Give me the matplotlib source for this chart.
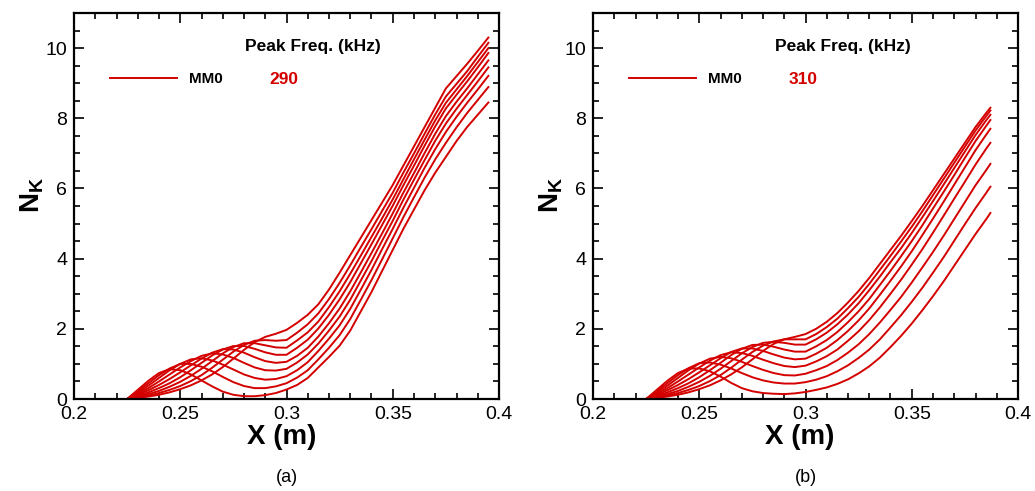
import matplotlib
matplotlib.use("Agg")
import matplotlib.pyplot as plt
from matplotlib.ticker import MultipleLocator, FuncFormatter

plt.rcParams['font.family'] = ['Liberation Sans', 'DejaVu Sans']
plt.rcParams['mathtext.fontset'] = 'custom'
plt.rcParams['mathtext.rm'] = 'Liberation Sans'
plt.rcParams['mathtext.bf'] = 'Liberation Sans:bold'

# x stations (m)
x_a = [0.225, 0.23, 0.235, 0.24, 0.245, 0.25, 0.255, 0.26, 0.265, 0.27, 0.275, 0.28,
       0.285, 0.29, 0.295, 0.3, 0.305, 0.31, 0.315, 0.32, 0.325, 0.33, 0.335, 0.34,
       0.345, 0.35, 0.355, 0.36, 0.365, 0.37, 0.375, 0.38, 0.385, 0.39, 0.395]
x_b = [0.225, 0.23, 0.235, 0.24, 0.245, 0.25, 0.255, 0.26, 0.265, 0.27, 0.275, 0.28,
       0.285, 0.29, 0.295, 0.3, 0.305, 0.31, 0.315, 0.32, 0.325, 0.33, 0.335, 0.34,
       0.345, 0.35, 0.355, 0.36, 0.365, 0.37, 0.375, 0.38, 0.385, 0.387]

# (a) N-factor curves, 290 kHz
a0 = [0, .03, .07, .12, .19, .28, .39, .53, .7, .91, 1.15, 1.4, 1.62, 1.77, 1.86, 1.97,
      2.17, 2.4, 2.7, 3.12, 3.6, 4.1, 4.6, 5.1, 5.6, 6.1, 6.65, 7.2, 7.75, 8.3, 8.85, 9.2, 9.55, 9.92, 10.3]
a1 = [0, .05, .1, .17, .26, .37, .51, .68, .89, 1.12, 1.35, 1.54, 1.66, 1.68, 1.66, 1.68,
      1.89, 2.13, 2.44, 2.85, 3.31, 3.81, 4.33, 4.84, 5.36, 5.88, 6.45, 7.0, 7.56, 8.11, 8.62, 8.98, 9.34, 9.75, 10.15]
a2 = [0, .07, .14, .23, .35, .49, .66, .86, 1.08, 1.3, 1.48, 1.59, 1.59, 1.53, 1.47, 1.46,
      1.67, 1.9, 2.21, 2.62, 3.07, 3.57, 4.09, 4.62, 5.15, 5.69, 6.26, 6.83, 7.39, 7.94, 8.44, 8.82, 9.2, 9.6, 10.0]
a3 = [0, .09, .19, .31, .45, .62, .82, 1.03, 1.24, 1.41, 1.51, 1.51, 1.43, 1.33, 1.26, 1.26,
      1.46, 1.69, 2.01, 2.4, 2.84, 3.33, 3.87, 4.41, 4.96, 5.51, 6.09, 6.65, 7.22, 7.77, 8.28, 8.67, 9.05, 9.45, 9.86]
a4 = [0, .12, .25, .4, .57, .76, .96, 1.15, 1.32, 1.42, 1.41, 1.32, 1.19, 1.08, 1.03, 1.06,
      1.23, 1.46, 1.78, 2.16, 2.58, 3.07, 3.61, 4.16, 4.72, 5.29, 5.88, 6.44, 7.01, 7.56, 8.06, 8.47, 8.85, 9.25, 9.65]
a5 = [0, .15, .31, .5, .7, .9, 1.08, 1.23, 1.3, 1.27, 1.17, 1.03, .9, .82, .81, .86,
      1.04, 1.27, 1.58, 1.95, 2.35, 2.83, 3.38, 3.93, 4.51, 5.08, 5.68, 6.25, 6.81, 7.36, 7.85, 8.27, 8.66, 9.05, 9.45]
a6 = [0, .18, .38, .6, .82, 1.0, 1.13, 1.16, 1.1, .98, .84, .7, .6, .55, .57, .65,
      .82, 1.05, 1.37, 1.72, 2.1, 2.57, 3.12, 3.68, 4.27, 4.85, 5.45, 6.02, 6.59, 7.12, 7.61, 8.04, 8.44, 8.82, 9.21]
a7 = [0, .22, .45, .68, .87, 1.0, 1.0, .92, .79, .63, .48, .37, .31, .31, .36, .45,
      .61, .82, 1.13, 1.46, 1.82, 2.28, 2.83, 3.39, 3.98, 4.58, 5.18, 5.75, 6.31, 6.83, 7.3, 7.74, 8.15, 8.52, 8.89]
a8 = [0, .26, .52, .74, .85, .82, .7, .53, .36, .21, .12, .08, .08, .11, .17, .27,
      .4, .6, .9, 1.2, 1.52, 1.95, 2.5, 3.05, 3.65, 4.25, 4.85, 5.4, 5.95, 6.45, 6.9, 7.35, 7.75, 8.1, 8.45]

# (b) N-factor curves, 310 kHz
b0 = [0, .03, .07, .12, .19, .28, .39, .53, .7, .9, 1.13, 1.37, 1.57, 1.7, 1.77, 1.85,
      2.0, 2.2, 2.45, 2.75, 3.08, 3.45, 3.85, 4.25, 4.65, 5.07, 5.5, 5.95, 6.4, 6.85, 7.3, 7.75, 8.15, 8.3]
b1 = [0, .05, .1, .17, .26, .37, .51, .68, .89, 1.12, 1.34, 1.52, 1.64, 1.7, 1.7, 1.7,
      1.85, 2.05, 2.29, 2.59, 2.91, 3.28, 3.68, 4.08, 4.49, 4.91, 5.35, 5.81, 6.27, 6.73, 7.19, 7.65, 8.06, 8.22]
b2 = [0, .07, .14, .23, .35, .49, .66, .86, 1.08, 1.3, 1.48, 1.6, 1.63, 1.6, 1.55, 1.55,
      1.7, 1.89, 2.13, 2.41, 2.73, 3.1, 3.49, 3.9, 4.3, 4.73, 5.18, 5.64, 6.11, 6.58, 7.05, 7.52, 7.94, 8.1]
b3 = [0, .09, .19, .31, .45, .62, .82, 1.03, 1.25, 1.43, 1.54, 1.55, 1.49, 1.41, 1.35, 1.35,
      1.5, 1.68, 1.91, 2.19, 2.5, 2.85, 3.25, 3.65, 4.07, 4.5, 4.95, 5.43, 5.9, 6.38, 6.87, 7.35, 7.78, 7.95]
b4 = [0, .12, .25, .4, .57, .76, .96, 1.16, 1.34, 1.44, 1.44, 1.37, 1.27, 1.18, 1.13, 1.15,
      1.29, 1.46, 1.68, 1.94, 2.24, 2.58, 2.97, 3.37, 3.78, 4.21, 4.67, 5.14, 5.62, 6.11, 6.6, 7.09, 7.53, 7.7]
b5 = [0, .15, .31, .5, .7, .9, 1.09, 1.25, 1.33, 1.31, 1.23, 1.12, 1.02, .94, .91, .95,
      1.07, 1.22, 1.41, 1.66, 1.93, 2.25, 2.61, 3.0, 3.4, 3.83, 4.27, 4.74, 5.22, 5.71, 6.19, 6.68, 7.13, 7.3]
b6 = [0, .18, .38, .6, .82, 1.01, 1.15, 1.2, 1.16, 1.06, .94, .83, .74, .68, .67, .72,
      .82, .94, 1.11, 1.32, 1.56, 1.85, 2.18, 2.54, 2.91, 3.32, 3.75, 4.19, 4.65, 5.13, 5.61, 6.09, 6.52, 6.7]
b7 = [0, .22, .45, .68, .88, 1.02, 1.04, .98, .87, .74, .62, .53, .47, .44, .44, .48,
      .55, .65, .79, .96, 1.17, 1.41, 1.7, 2.04, 2.39, 2.77, 3.17, 3.6, 4.04, 4.51, 4.98, 5.44, 5.87, 6.05]
b8 = [0, .26, .52, .74, .87, .87, .79, .64, .46, .31, .22, .17, .15, .14, .16, .2,
      .26, .33, .43, .56, .73, .93, 1.18, 1.48, 1.8, 2.15, 2.53, 2.93, 3.35, 3.8, 4.25, 4.7, 5.12, 5.3]

curves_a = [a0, a1, a2, a3, a4, a5, a6, a7, a8]
curves_b = [b0, b1, b2, b3, b4, b5, b6, b7, b8]
mode_name = "MM0"
peak_a = "290"
peak_b = "310"

RED = '#d40000'

fig = plt.figure(figsize=(10.35, 4.91), dpi=100)
ax_a = fig.add_axes([74 / 1035, 92 / 491, 425 / 1035, 386 / 491])
ax_b = fig.add_axes([593 / 1035, 92 / 491, 425 / 1035, 386 / 491])


def style(ax):
    ax.set_xlim(0.2, 0.4)
    ax.set_ylim(0, 11)
    ax.xaxis.set_major_locator(MultipleLocator(0.05))
    ax.xaxis.set_minor_locator(MultipleLocator(0.01))
    ax.yaxis.set_major_locator(MultipleLocator(2))
    ax.yaxis.set_minor_locator(MultipleLocator(0.5))
    ax.xaxis.set_major_formatter(FuncFormatter(lambda v, p: f"{v:g}"))
    ax.yaxis.set_major_formatter(FuncFormatter(lambda v, p: f"{v:g}"))
    ax.tick_params(which='both', direction='in', top=True, right=True,
                   width=1.2, labelsize=14, pad=5)
    ax.tick_params(which='major', length=7)
    ax.tick_params(which='minor', length=4)
    for s in ax.spines.values():
        s.set_linewidth(1.6)


for ax, xs, curves, peak, dx in [(ax_a, x_a, curves_a, peak_a, 0.0),
                                  (ax_b, x_b, curves_b, peak_b, 0.026)]:
    style(ax)
    for i, c in enumerate(curves):
        ax.plot(xs, c, color=RED, lw=1.4, label=mode_name if i == 0 else None)
    ax.legend(loc='center left', bbox_to_anchor=(0.0847, 0.829), frameon=False,
              borderpad=0, borderaxespad=0, handlelength=4.4, handletextpad=0.75,
              prop={'weight': 'bold', 'size': 11})
    ax.text(0.402 + dx, 0.912, "Peak Freq. (kHz)", transform=ax.transAxes,
            fontsize=12.5, fontweight='bold', va='center', ha='left')
    ax.text(0.46, 0.829, peak, transform=ax.transAxes, color=RED,
            fontsize=12.5, fontweight='bold', va='center', ha='left')

fig.text(282 / 1035, 1 - 437 / 491, "X (m)", fontsize=20, fontweight='bold',
         ha='center', va='center')
fig.text(800 / 1035, 1 - 437 / 491, "X (m)", fontsize=20, fontweight='bold',
         ha='center', va='center')
fig.text(32 / 1035, 1 - 195 / 491, r"$\mathbf{N_K}$", fontsize=20, rotation=90,
         ha='center', va='center')
fig.text(551 / 1035, 1 - 195 / 491, r"$\mathbf{N_K}$", fontsize=20, rotation=90,
         ha='center', va='center')
fig.text(287 / 1035, 1 - 478 / 491, "(a)", fontsize=13, ha='center', va='center')
fig.text(806 / 1035, 1 - 478 / 491, "(b)", fontsize=13, ha='center', va='center')

fig.savefig("out.png", dpi=100)
